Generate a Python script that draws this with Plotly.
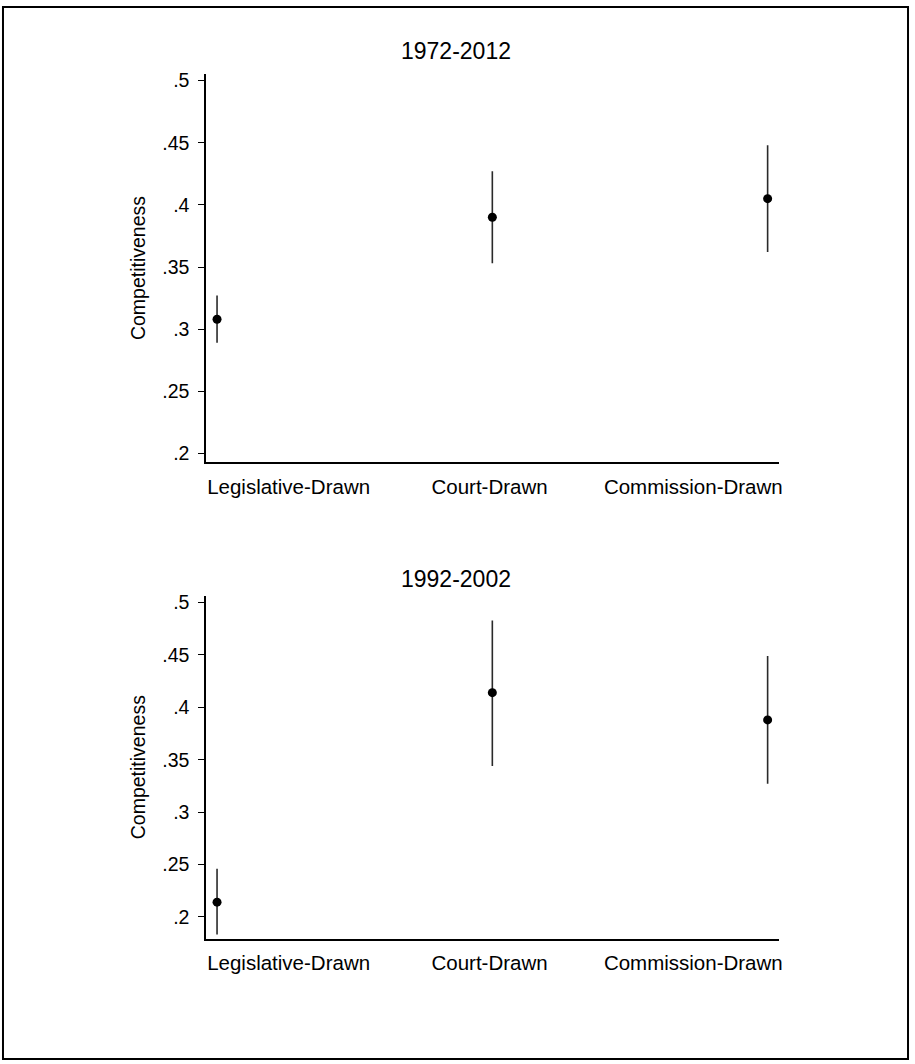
import plotly.graph_objects as go

# ---- data ----
categories = ["Legislative-Drawn", "Court-Drawn", "Commission-Drawn"]
cat_pos = [0, 1, 2]                 # positions of the estimates
label_pos = [0.26, 0.99, 1.73]      # positions of the category labels
panel_titles = ["1972-2012", "1992-2002"]

est_1972 = [0.308, 0.390, 0.405]
lo_1972 = [0.289, 0.353, 0.362]
hi_1972 = [0.327, 0.427, 0.448]

est_1992 = [0.214, 0.414, 0.388]
lo_1992 = [0.183, 0.344, 0.327]
hi_1992 = [0.246, 0.483, 0.449]

y_ticks = [0.2, 0.25, 0.3, 0.35, 0.4, 0.45, 0.5]
y_ticktext = [".2", ".25", ".3", ".35", ".4", ".45", ".5"]
y_title = "Competitiveness"

# ---- layout constants (pixels) ----
W, H = 915, 1064
FONT = "Arial, Liberation Sans, sans-serif"

def px_x(p):
    return p / W

def px_y(p):
    return 1 - p / H

fig = go.Figure()

panels = [
    (est_1972, lo_1972, hi_1972, "x", "y"),
    (est_1992, lo_1992, hi_1992, "x2", "y2"),
]
for est, lo, hi, xa, ya in panels:
    fig.add_trace(go.Scatter(
        x=cat_pos, y=est, mode="markers",
        marker=dict(color="black", size=9),
        error_y=dict(type="data", symmetric=False,
                     array=[h - e for h, e in zip(hi, est)],
                     arrayminus=[e - l for e, l in zip(est, lo)],
                     color="#2a2a2a", thickness=1.6, width=0),
        xaxis=xa, yaxis=ya, showlegend=False, hoverinfo="skip",
    ))

xdom = [px_x(207), px_x(782)]
xrange = [-11 / 276.5, 2 + 11 / 276.5]

xcommon = dict(
    domain=xdom, range=xrange, showline=True, linecolor="black", linewidth=1.5,
    ticks="", tickvals=label_pos, ticktext=categories, showgrid=False, zeroline=False,
    tickfont=dict(family=FONT, size=20.5, color="black"), ticklabelstandoff=5,
)
ycommon = dict(
    showline=True, linecolor="black", linewidth=1.5, ticks="outside", ticklen=6,
    tickcolor="black", tickwidth=1.3, tickvals=y_ticks, ticktext=y_ticktext,
    showgrid=False, zeroline=False,
    tickfont=dict(family=FONT, size=19.5, color="black"), ticklabelstandoff=5,
    title=dict(text=y_title, font=dict(family=FONT, size=19.5, color="black"), standoff=12),
)

# top panel: .5 at ~77px, .2 at ~452px ; bottom panel: .5 at ~602px, .2 at ~918px
k1 = (452 - 77) / 0.3
k2 = (918 - 602) / 0.3
top1, bot1 = 70, 461
top2, bot2 = 595, 940

fig.update_layout(
    width=W, height=H,
    margin=dict(l=0, r=0, t=0, b=0),
    paper_bgcolor="white", plot_bgcolor="white",
    showlegend=False,
    xaxis=dict(anchor="y", **xcommon),
    xaxis2=dict(anchor="y2", **xcommon),
    yaxis=dict(anchor="x", domain=[px_y(bot1), px_y(top1)],
               range=[0.2 - (bot1 - 452) / k1, 0.5 + (77 - top1) / k1], **ycommon),
    yaxis2=dict(anchor="x2", domain=[px_y(bot2), px_y(top2)],
                range=[0.2 - (bot2 - 918) / k2, 0.5 + (602 - top2) / k2], **ycommon),
)

for title, yc in zip(panel_titles, [47, 578]):
    fig.add_annotation(
        text=title, xref="paper", yref="paper", x=0.5, y=px_y(yc),
        xanchor="center", yanchor="middle", showarrow=False,
        font=dict(family=FONT, size=23, color="black"),
    )

fig.add_shape(type="rect", xref="paper", yref="paper",
              x0=px_x(3), x1=px_x(912), y0=3 / H, y1=1 - 3 / H,
              line=dict(color="black", width=2))

fig.write_html("out.html", config={"displayModeBar": False},
               post_script="document.body.style.margin='0';document.body.style.overflow='hidden';")
